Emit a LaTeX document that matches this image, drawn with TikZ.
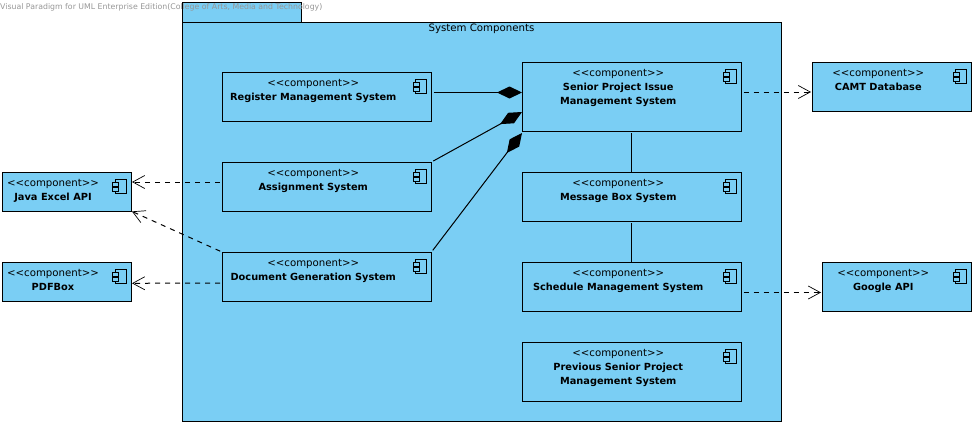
\documentclass[tikz,border=0pt]{standalone}
\usepackage{fontspec}
\usepackage{tikz}
\usetikzlibrary{arrows.meta,positioning}
\newfontfamily\compfont{DejaVu Sans}
\definecolor{compblue}{RGB}{122,206,244}
\definecolor{markgray}{RGB}{150,150,150}
\newcommand{\cname}[1]{{\fontsize{9.8}{14}\selectfont\bfseries #1}}

\begin{document}
\begin{tikzpicture}[
    x=1pt,y=-1pt,
    comp/.style={draw=black,fill=compblue,line width=1pt,outer sep=0pt,inner sep=0pt,
                 minimum width=#1,minimum height=49pt},
    comp/.default=209.5pt,
    ctext/.style={font=\compfont\fontsize{10.2}{14}\selectfont,align=center,
                  inner sep=0pt,xshift=-13.5pt,yshift=-7.5pt},
    comp icon/.pic={
      \draw[line width=.9pt,fill=compblue] (-16,7) rectangle (-5,21);
      \draw[line width=.9pt,fill=compblue] (-18.5,10) rectangle (-12.5,14);
      \draw[line width=.9pt,fill=compblue] (-18.5,15) rectangle (-12.5,19);
    },
    comp link/.style={line width=1pt,shorten <=2pt},
    part/.style={comp link,-{Diamond[length=25pt,width=12pt]}},
    dep/.style={line width=1pt,dash pattern=on 5pt off 5pt,shorten <=2pt,shorten >=1pt,
                -{Straight Barb[length=12pt,width=13pt,line width=.7pt]}}
  ]
    \useasboundingbox (0,0) rectangle (976,426);

    % package
    \node[draw=black,fill=compblue,line width=1pt,outer sep=0pt,anchor=north west,
          minimum width=119pt,minimum height=20pt] (pkgtab) at (182,2) {};
    \node[draw=black,fill=compblue,line width=1pt,outer sep=0pt,anchor=north west,
          minimum width=599pt,minimum height=399pt] (pkg) at (182,22) {};
    \node[font=\compfont\fontsize{10.2}{14}\selectfont,anchor=north,inner sep=0pt,yshift=-2pt]
      (pkgtitle) at (pkg.north) {System Components};
    \node[font=\compfont\fontsize{7.8}{9}\selectfont,text=markgray,anchor=west,inner sep=0pt]
      (mark) at (0,7) {Visual Paradigm for UML Enterprise Edition(College of Arts, Media and Technology)};

    % left column
    \node[comp,anchor=north west] (reg) at (222,72) {};
    \node[comp,below=41pt of reg] (asg) {};
    \node[comp,below=41pt of asg] (docgen) {};

    % middle column
    \node[comp=219.5pt,minimum height=69pt,right=90.5pt of reg.north east,anchor=north west,yshift=10pt] (sen) {};
    \node[comp=219.5pt,below=41pt of sen] (msg) {};
    \node[comp=219.5pt,below=41pt of msg] (sch) {};
    \node[comp=219.5pt,minimum height=59pt,below=31pt of sch] (prv) {};

    % outside the package
    \node[comp=159.5pt,right=70.5pt of sen.north east,anchor=north west] (camt) {};
    \node[comp=149.5pt,right=80.5pt of sch.north east,anchor=north west] (goog) {};
    \node[comp=129pt,minimum height=39pt,left=91pt of asg.south west,anchor=south east] (java) {};
    \node[comp=129pt,minimum height=39pt,left=91pt of docgen.south west,anchor=south east] (pdf) {};

    % texts
    \node[ctext,below=0pt of reg.north] (regtext) {<<component>>\\\cname{Register Management System}};
    \node[ctext,below=0pt of asg.north] (asgtext) {<<component>>\\\cname{Assignment System}};
    \node[ctext,below=0pt of docgen.north] (doctext) {<<component>>\\\cname{Document Generation System}};
    \node[ctext,below=0pt of sen.north] (sentext) {<<component>>\\\cname{Senior Project Issue}\\\cname{Management System}};
    \node[ctext,below=0pt of msg.north] (msgtext) {<<component>>\\\cname{Message Box System}};
    \node[ctext,below=0pt of sch.north] (schtext) {<<component>>\\\cname{Schedule Management System}};
    \node[ctext,below=0pt of prv.north] (prvtext) {<<component>>\\\cname{Previous Senior Project}\\\cname{Management System}};
    \node[ctext,below=0pt of camt.north] (camttext) {<<component>>\\\cname{CAMT Database}};
    \node[ctext,below=0pt of goog.north] (googtext) {<<component>>\\\cname{Google API}};
    \node[ctext,below=0pt of java.north] (javatext) {<<component>>\\\cname{Java Excel API}};
    \node[ctext,below=0pt of pdf.north] (pdftext) {<<component>>\\\cname{PDFBox}};

    % icons
    \foreach \b in {reg,asg,docgen,sen,msg,sch,prv,camt,goog,java,pdf}
      \pic at (\b.north east) {comp icon};

    % connectors
    \draw[part] ([yshift=4pt]reg.east) -- ([yshift=4pt]sen.west);
    \draw[part] (asg.north east) -- ([yshift=-15.5pt]sen.west);
    \draw[part] (docgen.north east) -- ([yshift=-2pt]sen.south west);
    \draw[comp link] (sen.south) -- (msg.north);
    \draw[comp link] (msg.south) -- (sch.north);
    \draw[dep] ([yshift=4.5pt]sen.east) -- ([yshift=-5.5pt]camt.west);
    \draw[dep] ([yshift=-6pt]sch.east) -- ([yshift=-6pt]goog.west);
    \draw[dep] ([yshift=4.5pt]asg.west) -- ([yshift=9.5pt]java.east);
    \draw[dep] (docgen.north west) -- (java.south east);
    \draw[dep] ([yshift=-6.5pt]docgen.west) -- ([yshift=-1.8pt]pdf.east);
  \end{tikzpicture}
\end{document}
